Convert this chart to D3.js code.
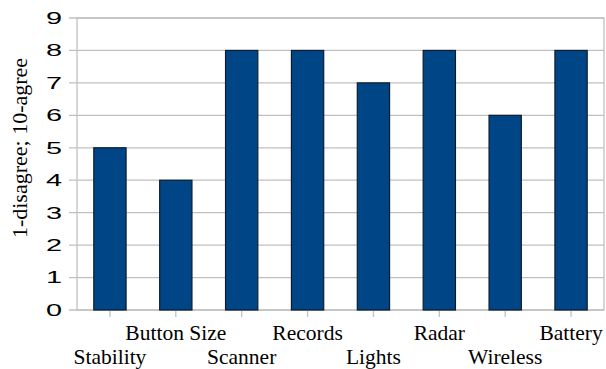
<!DOCTYPE html>
<html>
<head>
<meta charset="utf-8">
<script src="https://cdn.jsdelivr.net/npm/d3@7"></script>
<style>
  body { margin: 0; background: #fff; }
</style>
</head>
<body>
<div id="chart"></div>
<script>
let categories = ["Stability", "Button Size", "Scanner", "Records", "Lights", "Radar", "Wireless", "Battery"]
let values = [5, 4, 8, 8, 7, 8, 6, 8]
let yTicks = [0, 1, 2, 3, 4, 5, 6, 7, 8, 9]
let yTitle = "1-disagree; 10-agree"

let width = 606
let height = 369
let margin = { top: 18, right: 2, bottom: 59, left: 77 }

let svg = d3.select("#chart")
  .append("svg")
    .attr("width", width)
    .attr("height", height)
    .style("background", "#fff")

let x = d3.scaleBand()
  .domain(categories)
  .range([margin.left, width - margin.right])
  .paddingInner(0.51)
  .paddingOuter(0.255)

let y = d3.scaleLinear()
  .domain([0, 9])
  .range([height - margin.bottom, margin.top])

let grid = "#c0c0c0"

// horizontal grid lines + left ticks
svg.append("g")
  .selectAll("line")
  .data(yTicks)
  .enter()
  .append("line")
    .attr("x1", margin.left - 8)
    .attr("x2", width - margin.right)
    .attr("y1", d => y(d))
    .attr("y2", d => y(d))
    .attr("stroke", grid)
    .attr("stroke-width", 1.3)

// frame
svg.append("rect")
  .attr("x", margin.left)
  .attr("y", margin.top)
  .attr("width", width - margin.right - margin.left)
  .attr("height", y(0) - margin.top)
  .attr("fill", "none")
  .attr("stroke", grid)
  .attr("stroke-width", 1.3)

// y labels (the source renders them wide, so stretch horizontally)
svg.append("g")
  .selectAll("text")
  .data(yTicks)
  .enter()
  .append("text")
    .attr("font-family", "Liberation Sans")
    .attr("font-size", 16.5)
    .attr("transform", d => "translate(62," + y(d) + ") scale(1.75,1)")
    .attr("dy", "0.36em")
    .attr("text-anchor", "end")
    .text(d => d)

// bottom ticks at category centres
svg.append("g")
  .selectAll("line")
  .data(categories)
  .enter()
  .append("line")
    .attr("x1", d => x(d) + x.bandwidth() / 2)
    .attr("x2", d => x(d) + x.bandwidth() / 2)
    .attr("y1", y(0))
    .attr("y2", y(0) + 7)
    .attr("stroke", grid)
    .attr("stroke-width", 1.3)

// bars
svg.append("g")
  .selectAll("rect")
  .data(values)
  .enter()
  .append("rect")
    .attr("x", (d, i) => x(categories[i]))
    .attr("y", d => y(d))
    .attr("width", x.bandwidth())
    .attr("height", d => y(0) - y(d))
    .attr("fill", "#004586")
    .attr("stroke", "#0d1d2e")
    .attr("stroke-width", 1.2)

// category labels, staggered on two rows
svg.append("g")
  .selectAll("text")
  .data(categories)
  .enter()
  .append("text")
    .attr("font-family", "Liberation Serif")
    .attr("font-size", 21.5)
    .attr("x", d => x(d) + x.bandwidth() / 2)
    .attr("y", (d, i) => i % 2 == 1 ? 340 : 364)
    .attr("text-anchor", "middle")
    .text(d => d)

// y title
svg.append("text")
  .attr("font-family", "Liberation Serif")
  .attr("font-size", 22)
  .attr("transform", "translate(27,148) rotate(-90)")
  .attr("text-anchor", "middle")
  .text(yTitle)
</script>
</body>
</html>
